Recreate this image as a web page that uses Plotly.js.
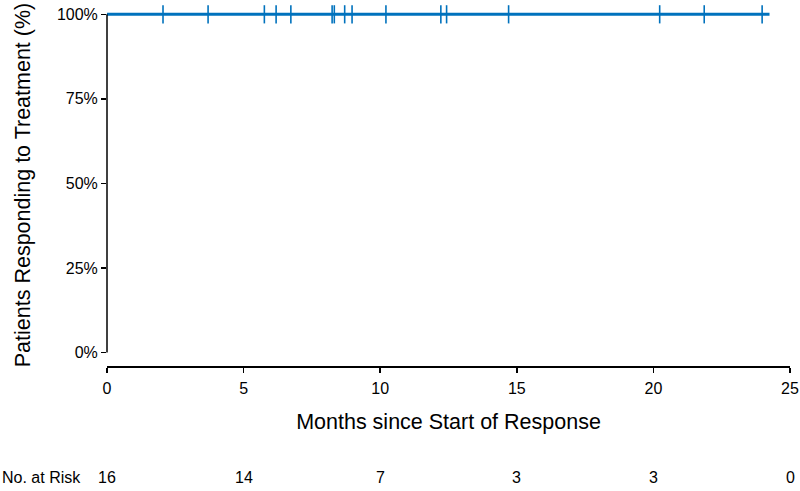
<!DOCTYPE html>
<html>
<head>
<meta charset="utf-8">
<script src="https://cdn.plot.ly/plotly-3.0.1.min.js"></script>
<style>
  html, body { margin: 0; padding: 0; background: #fff; }
  #chart { width: 800px; height: 491px; }
</style>
</head>
<body>
<div id="chart"></div>
<script>
// Kaplan-Meier: duration of response, no events, only censored patients
var survTimes = [0, 24.25];
var survProb = [1, 1];

// censored observations (tick marks)
var censorTimes = [2.05, 3.70, 5.76, 6.19, 6.73, 8.24, 8.32, 8.70, 8.97, 10.21,
                   12.22, 12.43, 14.70, 20.23, 21.86, 23.98];

// number at risk table
var riskTimes = [0, 5, 10, 15, 20, 25];
var riskCounts = [16, 14, 7, 3, 3, 0];

var yTickVals = [0, 0.25, 0.5, 0.75, 1];
var yTickText = ['0%', '25%', '50%', '75%', '100%'];

var azul = '#0072BD';
var fuente = 'Liberation Sans, Arial, Helvetica, sans-serif';

// y range padded so the x axis sits a bit below 0% (detached axes)
var yMin = -0.0399, yMax = 1.0305;
function yPaper(v) { return (v - yMin) / (yMax - yMin); }

var traceCurva = {
  x: survTimes,
  y: survProb,
  type: 'scatter',
  mode: 'lines',
  line: { color: azul, width: 3, shape: 'hv' },
  hoverinfo: 'skip',
  showlegend: false
};

var traceCensura = {
  x: censorTimes,
  y: censorTimes.map(function() { return 1; }),
  type: 'scatter',
  mode: 'markers',
  marker: { symbol: 'line-ns', size: 13, color: azul, line: { color: azul, width: 1.6 } },
  cliponaxis: false,
  hoverinfo: 'skip',
  showlegend: false
};

var anotaciones = riskTimes.map(function(t, i) {
  return {
    x: t, xref: 'x', y: -0.309, yref: 'paper',
    text: String(riskCounts[i]), showarrow: false,
    xanchor: 'center', yanchor: 'middle',
    font: { family: fuente, size: 16, color: '#000' }
  };
});
anotaciones.push({
  x: -107 / 683, xref: 'paper', y: -0.309, yref: 'paper',
  text: 'No. at Risk', showarrow: false,
  xanchor: 'left', yanchor: 'middle',
  font: { family: fuente, size: 16, color: '#000' }
});

var layout = {
  width: 800,
  height: 491,
  margin: { l: 107, r: 10, t: 4, b: 125 },
  paper_bgcolor: '#fff',
  plot_bgcolor: '#fff',
  font: { family: fuente, color: '#000' },
  xaxis: {
    range: [0, 25],
    tickvals: riskTimes,
    showgrid: false,
    zeroline: false,
    showline: true,
    linecolor: '#000',
    linewidth: 1.5,
    ticks: 'outside',
    ticklen: 5,
    tickwidth: 1.5,
    tickcolor: '#000',
    tickfont: { family: fuente, size: 16, color: '#000' },
    ticklabelstandoff: 2,
    title: { text: 'Months since Start of Response', font: { family: fuente, size: 21.5, color: '#000' }, standoff: 18 },
    automargin: false
  },
  yaxis: {
    range: [yMin, yMax],
    tickvals: yTickVals,
    ticktext: yTickText,
    showgrid: false,
    zeroline: false,
    showline: false,
    ticks: 'outside',
    ticklen: 5,
    tickwidth: 1.5,
    tickcolor: '#000',
    tickfont: { family: fuente, size: 16, color: '#000' },
    title: { text: 'Patients Responding to Treatment (%)', font: { family: fuente, size: 21.5, color: '#000' }, standoff: 20 },
    automargin: false
  },
  shapes: [{
    type: 'line', xref: 'paper', yref: 'paper',
    x0: 0, x1: 0, y0: yPaper(0), y1: yPaper(1),
    line: { color: '#000', width: 1.5 }
  }],
  annotations: anotaciones
};

Plotly.newPlot('chart', [traceCurva, traceCensura], layout, { staticPlot: true, displayModeBar: false });
</script>
</body>
</html>
